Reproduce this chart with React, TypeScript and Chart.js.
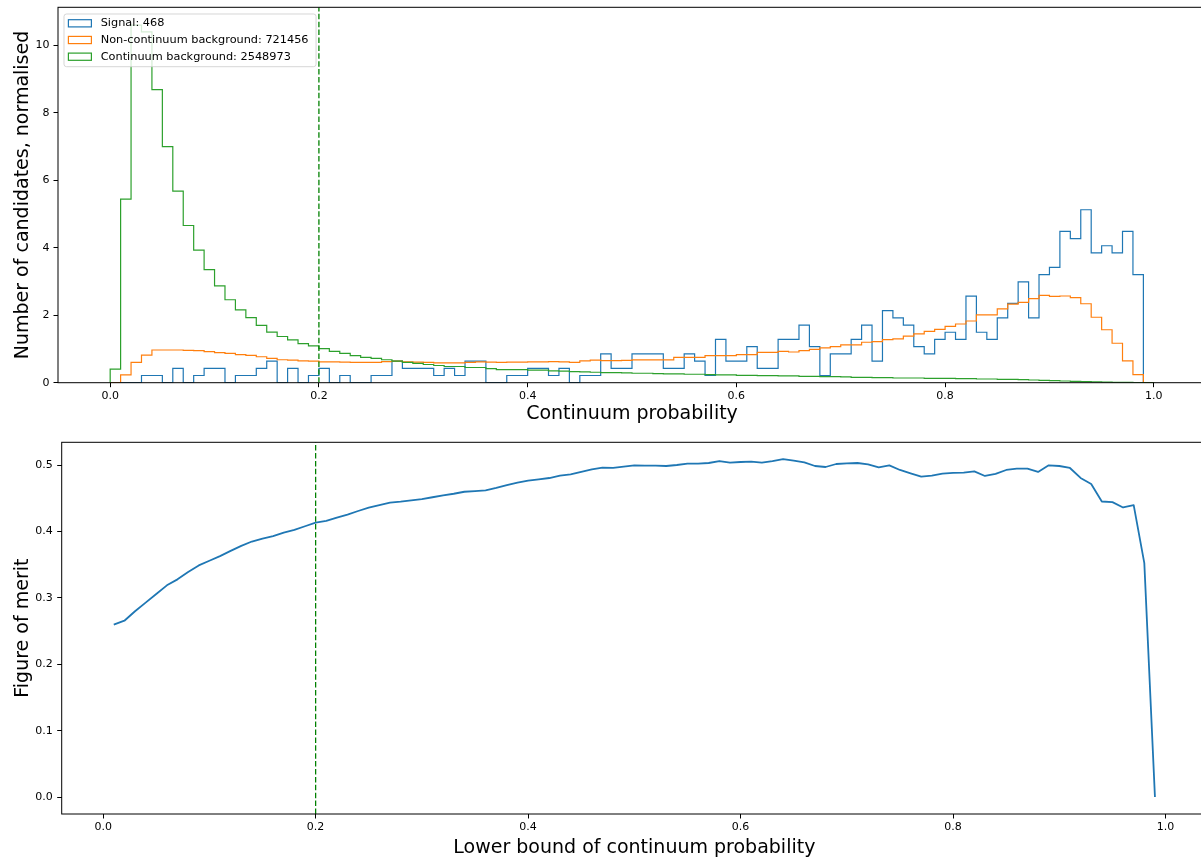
import React, { useEffect, useRef } from "react";
import { Chart, registerables } from "chart.js";

Chart.register(...registerables);

// ---------------- data ----------------
const binWidth = 0.01;
const signalTotal = 468;
const legendLabels = [
  "Signal: 468",
  "Non-continuum background: 721456",
  "Continuum background: 2548973",
];

// signal counts per bin (0.00-0.01, ..., 0.99-1.00)
const signalCounts = [
  0, 0, 0, 1, 1, 0, 2, 0, 1, 2,
  2, 0, 1, 1, 2, 3, 0, 2, 0, 1,
  2, 0, 1, 0, 0, 1, 1, 3, 2, 2,
  2, 1, 2, 1, 3, 3, 0, 0, 1, 1,
  2, 2, 1, 2, 0, 1, 1, 4, 2, 2,
  4, 4, 4, 2, 2, 4, 3, 1, 6, 3,
  3, 5, 2, 2, 6, 6, 8, 5, 1, 4,
  4, 6, 8, 3, 10, 9, 8, 5, 4, 6,
  7, 6, 12, 7, 6, 9, 11, 14, 9, 15,
  16, 21, 20, 24, 18, 19, 18, 21, 15, 0,
];

// normalised densities
const nonContinuumDensity = [
  0, 0.23, 0.6, 0.82, 0.97, 0.97, 0.97, 0.96, 0.95, 0.92,
  0.89, 0.87, 0.83, 0.81, 0.77, 0.72, 0.68, 0.67, 0.645, 0.64,
  0.62, 0.62, 0.61, 0.6, 0.6, 0.6, 0.625, 0.64, 0.62, 0.61,
  0.6, 0.59, 0.59, 0.59, 0.6, 0.62, 0.61, 0.6, 0.61, 0.61,
  0.62, 0.62, 0.625, 0.62, 0.6, 0.65, 0.67, 0.655, 0.655, 0.66,
  0.675, 0.675, 0.675, 0.675, 0.75, 0.75, 0.75, 0.8, 0.8, 0.8,
  0.83, 0.83, 0.9, 0.9, 0.93, 0.91, 0.95, 0.99, 1.03, 1.07,
  1.12, 1.12, 1.2, 1.22, 1.28, 1.3, 1.38, 1.45, 1.52, 1.58,
  1.67, 1.74, 1.83, 2.01, 2.01, 2.19, 2.33, 2.38, 2.49, 2.59,
  2.56, 2.57, 2.52, 2.34, 1.94, 1.57, 1.17, 0.65, 0.24, 0,
];

const continuumDensity = [
  0.4, 5.44, 10.6, 10.4, 8.69, 7.0, 5.68, 4.66, 3.93, 3.35,
  2.87, 2.46, 2.16, 1.93, 1.7, 1.5, 1.37, 1.27, 1.16, 1.09,
  1.01, 0.93, 0.87, 0.8, 0.75, 0.72, 0.68, 0.64, 0.6, 0.57,
  0.54, 0.51, 0.48, 0.48, 0.45, 0.45, 0.42, 0.39, 0.39, 0.385,
  0.37, 0.37, 0.35, 0.345, 0.33, 0.32, 0.31, 0.3, 0.3, 0.29,
  0.28, 0.28, 0.27, 0.26, 0.26, 0.25, 0.25, 0.24, 0.23, 0.23,
  0.22, 0.22, 0.21, 0.21, 0.2, 0.2, 0.19, 0.19, 0.18, 0.18,
  0.17, 0.16, 0.16, 0.15, 0.15, 0.14, 0.14, 0.14, 0.13, 0.13,
  0.13, 0.12, 0.12, 0.11, 0.11, 0.1, 0.1, 0.09, 0.08, 0.07,
  0.06, 0.05, 0.04, 0.03, 0.025, 0.02, 0.012, 0.007, 0.004, 0.001,
];

// figure of merit for lower bound 0.01 ... 0.99
const fomValues = [
  0.2597, 0.2657, 0.28, 0.293, 0.306, 0.319, 0.328, 0.339, 0.349, 0.356,
  0.363, 0.371, 0.3785, 0.385, 0.3895, 0.393, 0.3985, 0.4025, 0.408, 0.4135,
  0.416, 0.421, 0.4256, 0.431, 0.436, 0.44, 0.4436, 0.445, 0.447, 0.449,
  0.4517, 0.4547, 0.457, 0.46, 0.461, 0.462, 0.4657, 0.47, 0.4737, 0.4767,
  0.4788, 0.4807, 0.4842, 0.4863, 0.49, 0.4938, 0.4962, 0.496, 0.4978, 0.4998,
  0.4993, 0.4993, 0.4988, 0.5003, 0.5023, 0.5023, 0.5033, 0.5063, 0.5038, 0.5048,
  0.5053, 0.5038, 0.5063, 0.5093, 0.5068, 0.5043, 0.4988, 0.4973, 0.5018, 0.5028,
  0.5033, 0.5013, 0.4968, 0.4998, 0.4928, 0.4878, 0.4828, 0.4843, 0.4873, 0.4883,
  0.4888, 0.4908, 0.4838, 0.4868, 0.4928, 0.4948, 0.4948, 0.4898, 0.4998, 0.4988,
  0.4958, 0.4808, 0.4718, 0.4453, 0.4443, 0.4363, 0.4398, 0.3525, 0.0,
];
const fomCuts = fomValues.map((_, i) => +((i + 1) * binWidth).toFixed(2));

const cutValue = 0.2;
const xTicks = [0, 0.2, 0.4, 0.6, 0.8, 1.0];
const histYTicks = [0, 2, 4, 6, 8, 10];
const fomYTicks = [0, 0.1, 0.2, 0.3, 0.4, 0.5];

const histXRange = [-0.05, 1.05];
const histYRange = [0, 11.13];
const fomXRange = [-0.039, 1.039];
const fomYRange = [-0.0255, 0.5345];

const C_BLUE = "#1f77b4";
const C_ORANGE = "#ff7f0e";
const C_GREEN = "#2ca02c";
const FONT = '"DejaVu Sans", sans-serif';

// -------------- helpers --------------
function stepPoints(values: number[]) {
  const pts: { x: number; y: number }[] = [{ x: 0, y: 0 }];
  values.forEach((v, i) => {
    const x0 = +(i * binWidth).toFixed(2);
    const x1 = +((i + 1) * binWidth).toFixed(2);
    pts.push({ x: x0, y: v }, { x: x1, y: v });
  });
  pts.push({ x: +(values.length * binWidth).toFixed(2), y: 0 });
  return pts;
}

const framePlugin = {
  id: "mplFrame",
  afterDatasetsDraw(chart: any) {
    const { ctx, chartArea: ca } = chart;
    ctx.save();
    ctx.strokeStyle = "#000";
    ctx.lineWidth = 1;
    ctx.strokeRect(ca.left, ca.top, ca.right - ca.left, ca.bottom - ca.top);
    ctx.restore();
  },
};

const legendPlugin = {
  id: "mplLegend",
  afterDraw(chart: any) {
    const { ctx, chartArea: ca } = chart;
    const fs = 11.3;
    const colors = [C_BLUE, C_ORANGE, C_GREEN];
    ctx.save();
    ctx.font = `${fs}px ${FONT}`;
    const maxW = Math.max(...legendLabels.map((t) => ctx.measureText(t).width));
    const bx = ca.left + 6;
    const by = ca.top + 6.7;
    const textX = bx + 36.7;
    const bw = textX - bx + maxW + 7.5;
    const bh = 52.7;
    const r = 2.5;
    ctx.beginPath();
    ctx.moveTo(bx + r, by);
    ctx.lineTo(bx + bw - r, by);
    ctx.quadraticCurveTo(bx + bw, by, bx + bw, by + r);
    ctx.lineTo(bx + bw, by + bh - r);
    ctx.quadraticCurveTo(bx + bw, by + bh, bx + bw - r, by + bh);
    ctx.lineTo(bx + r, by + bh);
    ctx.quadraticCurveTo(bx, by + bh, bx, by + bh - r);
    ctx.lineTo(bx, by + r);
    ctx.quadraticCurveTo(bx, by, bx + r, by);
    ctx.closePath();
    ctx.fillStyle = "rgba(255,255,255,0.8)";
    ctx.fill();
    ctx.strokeStyle = "rgba(204,204,204,0.8)";
    ctx.lineWidth = 1;
    ctx.stroke();
    legendLabels.forEach((t, i) => {
      const cy = by + 9.3 + i * 16.7;
      ctx.strokeStyle = colors[i];
      ctx.lineWidth = 1.2;
      ctx.strokeRect(bx + 4.4, cy - 3.6, 23, 7.2);
      ctx.fillStyle = "#000";
      ctx.textBaseline = "middle";
      ctx.textAlign = "left";
      ctx.fillText(t, textX, cy);
    });
    ctx.restore();
  },
};

function tickGrid() {
  return {
    display: true,
    drawOnChartArea: false,
    drawTicks: true,
    tickLength: 4.5,
    color: "#000",
    lineWidth: 1,
  };
}

function fixHeight(h: number) {
  return (s: any) => {
    s.height = h;
    s.paddingLeft = 0;
    s.paddingRight = 0;
  };
}
function fixWidth(w: number) {
  return (s: any) => {
    s.width = w;
    s.paddingTop = 0;
    s.paddingBottom = 0;
  };
}

// -------------- component --------------
export default function App() {
  const topRef = useRef<HTMLCanvasElement | null>(null);
  const botRef = useRef<HTMLCanvasElement | null>(null);

  useEffect(() => {
    Chart.defaults.font.family = FONT;
    Chart.defaults.color = "#000";

    const signalDensity = signalCounts.map((c) => c / (signalTotal * binWidth));

    const top = new Chart(topRef.current as HTMLCanvasElement, {
      type: "line",
      data: {
        datasets: [
          {
            label: "cut",
            data: [
              { x: cutValue, y: histYRange[0] },
              { x: cutValue, y: histYRange[1] },
            ],
            borderColor: "#008000",
            borderWidth: 1.3,
            borderDash: [5.5, 2.4],
            pointRadius: 0,
          },
          {
            label: legendLabels[2],
            data: stepPoints(continuumDensity),
            borderColor: C_GREEN,
            borderWidth: 1.2,
            pointRadius: 0,
            tension: 0,
          },
          {
            label: legendLabels[1],
            data: stepPoints(nonContinuumDensity),
            borderColor: C_ORANGE,
            borderWidth: 1.2,
            pointRadius: 0,
            tension: 0,
          },
          {
            label: legendLabels[0],
            data: stepPoints(signalDensity),
            borderColor: C_BLUE,
            borderWidth: 1.2,
            pointRadius: 0,
            tension: 0,
          },
        ],
      },
      options: {
        responsive: false,
        animation: false,
        events: [],
        layout: { padding: { left: 0, right: 0, top: 7.3, bottom: 0 } },
        plugins: { legend: { display: false }, tooltip: { enabled: false } },
        scales: {
          x: {
            type: "linear",
            min: histXRange[0],
            max: histXRange[1],
            border: { display: false },
            grid: tickGrid(),
            afterBuildTicks: (s: any) => {
              s.ticks = xTicks.map((v) => ({ value: v }));
            },
            afterFit: fixHeight(47.3),
            ticks: {
              autoSkip: false,
              maxRotation: 0,
              padding: 2,
              font: { size: 11 },
              color: "#000",
              callback: (v: any) => Number(v).toFixed(1),
            },
            title: {
              display: true,
              text: "Continuum probability",
              font: { size: 19 },
              color: "#000",
              padding: { top: 0, bottom: 4.5 },
            },
          },
          y: {
            type: "linear",
            min: histYRange[0],
            max: histYRange[1],
            border: { display: false },
            grid: tickGrid(),
            afterBuildTicks: (s: any) => {
              s.ticks = histYTicks.map((v) => ({ value: v }));
            },
            afterFit: fixWidth(58),
            ticks: {
              autoSkip: false,
              padding: 4,
              font: { size: 11 },
              color: "#000",
              callback: (v: any) => Number(v).toFixed(0),
            },
            title: {
              display: true,
              text: "Number of candidates, normalised",
              font: { size: 19 },
              color: "#000",
              padding: { top: 12, bottom: 0 },
            },
          },
        },
      } as any,
      plugins: [framePlugin, legendPlugin],
    });

    const bottom = new Chart(botRef.current as HTMLCanvasElement, {
      type: "line",
      data: {
        datasets: [
          {
            label: "cut",
            data: [
              { x: cutValue, y: fomYRange[0] },
              { x: cutValue, y: fomYRange[1] },
            ],
            borderColor: "#008000",
            borderWidth: 1.3,
            borderDash: [5.5, 2.4],
            pointRadius: 0,
          },
          {
            label: "Figure of merit",
            data: fomCuts.map((x, i) => ({ x, y: fomValues[i] })),
            borderColor: C_BLUE,
            borderWidth: 1.8,
            borderJoinStyle: "round",
            pointRadius: 0,
            tension: 0,
          },
        ],
      },
      options: {
        responsive: false,
        animation: false,
        events: [],
        layout: { padding: { left: 0, right: 0, top: 12.3, bottom: 0 } },
        plugins: { legend: { display: false }, tooltip: { enabled: false } },
        scales: {
          x: {
            type: "linear",
            min: fomXRange[0],
            max: fomXRange[1],
            border: { display: false },
            grid: tickGrid(),
            afterBuildTicks: (s: any) => {
              s.ticks = xTicks.map((v) => ({ value: v }));
            },
            afterFit: fixHeight(48),
            ticks: {
              autoSkip: false,
              maxRotation: 0,
              padding: 2,
              font: { size: 11 },
              color: "#000",
              callback: (v: any) => Number(v).toFixed(1),
            },
            title: {
              display: true,
              text: "Lower bound of continuum probability",
              font: { size: 19 },
              color: "#000",
              padding: { top: 0, bottom: 2.2 },
            },
          },
          y: {
            type: "linear",
            min: fomYRange[0],
            max: fomYRange[1],
            border: { display: false },
            grid: tickGrid(),
            afterBuildTicks: (s: any) => {
              s.ticks = fomYTicks.map((v) => ({ value: v }));
            },
            afterFit: fixWidth(61.7),
            ticks: {
              autoSkip: false,
              padding: 4.5,
              font: { size: 11 },
              color: "#000",
              callback: (v: any) => Number(v).toFixed(1),
            },
            title: {
              display: true,
              text: "Figure of merit",
              font: { size: 19 },
              color: "#000",
              padding: { top: 12, bottom: 0 },
            },
          },
        },
      } as any,
      plugins: [framePlugin],
    });

    return () => {
      top.destroy();
      bottom.destroy();
    };
  }, []);

  return (
    <div
      style={{
        position: "fixed",
        left: 0,
        top: 0,
        width: 1201,
        height: 859,
        overflow: "hidden",
        background: "#fff",
      }}
    >
      <canvas
        ref={topRef}
        width={1206}
        height={430}
        style={{ position: "absolute", left: 0, top: 0, width: 1206, height: 430 }}
      />
      <canvas
        ref={botRef}
        width={1207}
        height={432}
        style={{ position: "absolute", left: 0, top: 430, width: 1207, height: 432 }}
      />
    </div>
  );
}
